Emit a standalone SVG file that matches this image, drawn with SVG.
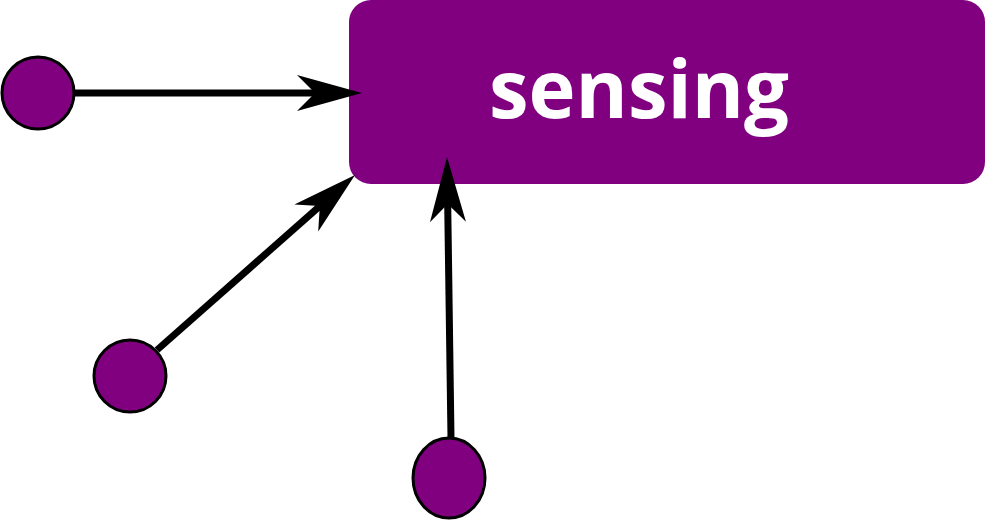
<svg xmlns="http://www.w3.org/2000/svg" width="985" height="520" viewBox="0 0 985 520">
<style>
.node{fill:#800080;stroke:#000;stroke-width:3}
.edge{stroke:#000;stroke-width:7;fill:none}
.lbl{font-family:"Open Sans","DejaVu Sans",sans-serif;font-weight:bold;font-size:80px;fill:#fff}
</style>
<defs>
<marker id="ah" markerUnits="userSpaceOnUse" viewBox="0 -19 66 38" refX="18" refY="0" markerWidth="66" markerHeight="38" orient="auto">
<path d="M0,-18 L65,0 L0,18 L18,0 z" fill="#000"/>
</marker>
</defs>
<g id="sensing">
<rect x="349" y="0" width="636" height="184" rx="22" fill="#800080"/>
<text class="lbl" x="639" y="118" text-anchor="middle" textLength="300" lengthAdjust="spacingAndGlyphs">sensing</text>
</g>
<g id="n1"><circle class="node" cx="38" cy="93" r="36"/></g>
<g id="n2"><circle class="node" cx="130" cy="376" r="36"/></g>
<g id="n3"><ellipse class="node" cx="449" cy="478" rx="36" ry="40"/></g>
<g id="connectors">
<line class="edge" x1="74" y1="93" x2="315" y2="93" marker-end="url(#ah)"/>
<line class="edge" x1="157" y1="350" x2="319.8" y2="206.1" marker-end="url(#ah)"/>
<line class="edge" x1="451" y1="438" x2="447.7" y2="204" marker-end="url(#ah)"/>
</g>
</svg>
